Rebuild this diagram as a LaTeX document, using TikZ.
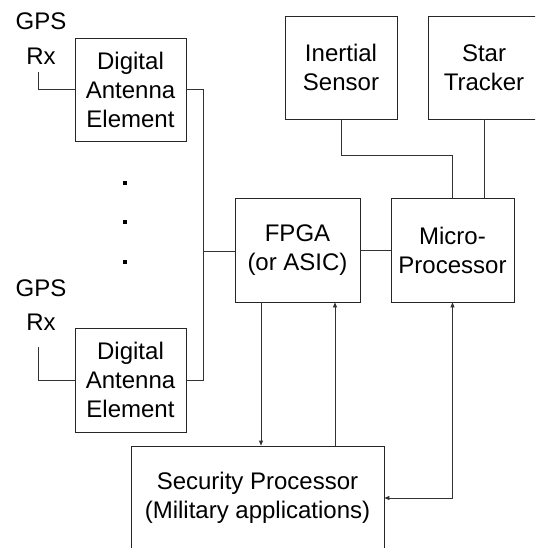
\documentclass[tikz,border=0pt]{standalone}
\usepackage{fontspec}
\setmainfont{Liberation Sans}
\usetikzlibrary{arrows.meta, calc}

\begin{document}
\begin{tikzpicture}[x=1pt, y=-1pt,
  every node/.style={font=\fontsize{24}{29}\selectfont, align=center},
  blk/.style={draw=black!85, line width=0.8pt, inner sep=0pt},
  wire/.style={draw=black!80, line width=0.8pt},
  arr/.style={wire, -{Triangle[length=5pt, width=4pt]}},
  darr/.style={wire, {Triangle[length=5pt, width=4pt]}-{Triangle[length=5pt, width=4pt]}}]

\useasboundingbox (0,0) rectangle (535,548);
\clip (0,0) rectangle (535,548);

% Antenna elements with their receivers
\node[blk, minimum width=111pt, minimum height=103pt] (dae1) at (130.5,89.5) {Digital\\Antenna\\Element};
\node (gps1) at (41,39) {GPS\\[6pt]Rx};
\coordinate (ant1) at (38,72);

\node[blk, minimum width=111pt, minimum height=104pt] (dae2) at (130.5,380) {Digital\\Antenna\\Element};
\node (gps2) at (41,305) {GPS\\[5pt]Rx};
\coordinate (ant2) at (38,347);

\draw[wire] (ant1) |- (dae1.west);
\draw[wire] (ant2) |- (dae2.west);

% More elements in between
\foreach \y in {183,222,262}
  \fill (123,\y-2) rectangle (127,\y+2);

% Processing chain
\node[blk, minimum width=125pt, minimum height=104pt] (fpga) at (297.5,250) {FPGA\\(or ASIC)};
\node[blk, minimum width=123pt, minimum height=104pt] (micro) at (452.5,250) {Micro-\\Processor};

% Combining bus
\coordinate (bus) at (203,251);
\draw[wire] (dae1.east) -| (bus);
\draw[wire] (dae2.east) -| (bus);
\draw[wire] (bus) -- (fpga.west |- bus);
\draw[wire] (fpga) -- (micro);

% Sensors
\node[blk, minimum width=112pt, minimum height=103pt] (inertial) at (341,67.5) {Inertial\\Sensor};
\node[blk, minimum width=112pt, minimum height=103pt] (star) at (484,67.5) {Star\\Tracker};

\draw[wire] (inertial.south) -- ++(0,36) -| (micro.north);
\draw[wire] (star.south) -- (star.south |- micro.north);

% Security processor
\node[blk, minimum width=253pt, minimum height=104pt] (sec) at (257.5,498) {Security Processor\\(Military applications)};

\draw[arr] ([xshift=-36.5pt]fpga.south) -- ([xshift=-36.5pt]fpga.south |- sec.north);
\draw[arr] ([xshift=37.5pt]fpga.south |- sec.north) -- ([xshift=37.5pt]fpga.south);
\draw[darr] (micro.south) |- (sec.east);

\end{tikzpicture}
\end{document}
